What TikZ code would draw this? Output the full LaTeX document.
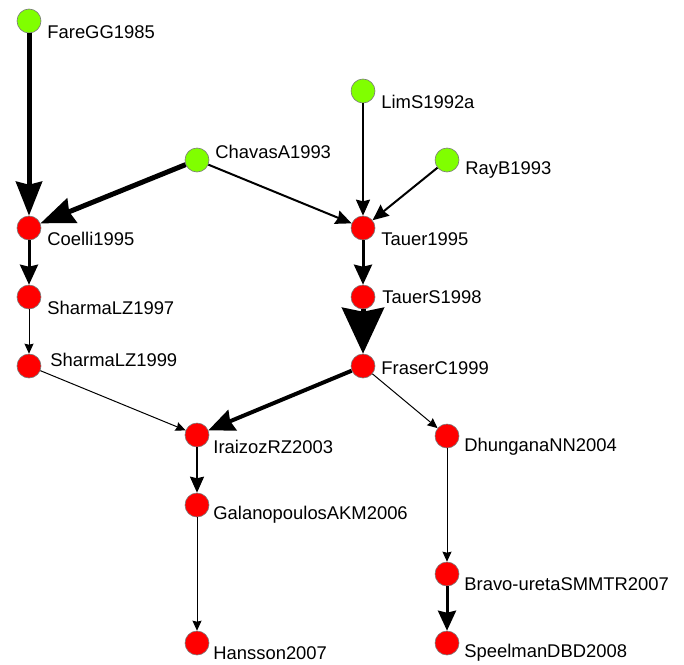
\documentclass[tikz,border=0pt]{standalone}
\usepackage{fontspec}
\setmainfont{Liberation Sans}
\usepackage{tikz}
\usetikzlibrary{arrows.meta,positioning,calc}
\definecolor{Seed}{HTML}{80FF00}
\definecolor{Hit}{HTML}{FF0000}
\definecolor{Rim}{HTML}{7A7A7A}

\tikzset{
  paper/.style={circle,draw=Rim,line width=0.3pt,minimum size=12pt,inner sep=0pt},
  seed/.style={paper,fill=Seed},
  hit/.style={paper,fill=Hit},
  lbl/.style={anchor=west,inner sep=0pt,font=\fontsize{9.2}{10}\selectfont},
  e1/.style={line width=0.5pt,-{Stealth[length=5pt,width=4.5pt,inset=0.5pt]}},
  e2/.style={line width=1pt,-{Stealth[length=8pt,width=7pt,inset=0.8pt]}},
  e3/.style={line width=1.5pt,-{Stealth[length=10pt,width=9pt,inset=1pt]}},
  e4/.style={line width=2pt,-{Stealth[length=13pt,width=11pt,inset=1.2pt]}},
  e5/.style={line width=2.5pt,-{Stealth[length=17pt,width=13pt,inset=1.5pt]}},
  e6/.style={line width=2.5pt,-{Stealth[length=23pt,width=21pt,inset=2pt]}}
}

\begin{document}
\begin{tikzpicture}[x=0.5pt,y=-0.5pt]
\useasboundingbox (0,0) rectangle (684,664);
% papers
\node[seed] (fare)   at (29,21)  {};
\node[seed] (lim)    at (363,91) {};
\node[seed] (chavas) at (197,160) {};
\node[seed] (ray)    at (447,160) {};
\node[hit] (coelli)  at (29,228) {};
\node[hit] (tauer)   at (363,228) {};
\node[hit] (sh97)    at (29,297) {};
\node[hit] (tauers)  at (363,297) {};
\node[hit] (sh99)    at (29,366) {};
\node[hit] (fraser)  at (363,366) {};
\node[hit] (iraizoz) at (197,435) {};
\node[hit] (dhung)   at (447,436) {};
\node[hit] (galano)  at (197,505) {};
\node[hit] (bravo)   at (447,574) {};
\node[hit] (hansson) at (197,643) {};
\node[hit] (speel)   at (447,643) {};
% names
\node[lbl] (t-fare)    at (47,32)   {FareGG1985};
\node[lbl] (t-lim)     at (381,102) {LimS1992a};
\node[lbl] (t-chavas)  at (215,152) {ChavasA1993};
\node[lbl] (t-ray)     at (465,170) {RayB1993};
\node[lbl] (t-coelli)  at (47,239)  {Coelli1995};
\node[lbl] (t-tauer)   at (381,239) {Tauer1995};
\node[lbl] (t-sh97)    at (47,308)  {SharmaLZ1997};
\node[lbl] (t-tauers)  at (382,297) {TauerS1998};
\node[lbl] (t-sh99)    at (50,360)  {SharmaLZ1999};
\node[lbl] (t-fraser)  at (381,368) {FraserC1999};
\node[lbl] (t-iraizoz) at (213,447) {IraizozRZ2003};
\node[lbl] (t-dhung)   at (464,447) {DhunganaNN2004};
\node[lbl] (t-galano)  at (213,515) {GalanopoulosAKM2006};
\node[lbl] (t-bravo)   at (464,584) {Bravo-uretaSMMTR2007};
\node[lbl] (t-hansson) at (213,653) {Hansson2007};
\node[lbl] (t-speel)   at (464,653) {SpeelmanDBD2008};
% citations
\draw[e5] (fare) -- (coelli);
\draw[e5] (chavas) -- (coelli);
\draw[e2] (chavas) -- (tauer);
\draw[e2] (lim) -- (tauer);
\draw[e2] (ray) -- (tauer);
\draw[e3] (coelli) -- (sh97);
\draw[e1] (sh97) -- (sh99);
\draw[e3] (tauer) -- (tauers);
\draw[e6] (tauers) -- (fraser);
\draw[e1] (sh99) -- (iraizoz);
\draw[e4] (fraser) -- (iraizoz);
\draw[e1] (fraser) -- (dhung);
\draw[e2] (iraizoz) -- (galano);
\draw[e1] (galano) -- (hansson);
\draw[e1] (dhung) -- (bravo);
\draw[e3] (bravo) -- (speel);
\end{tikzpicture}
\end{document}
